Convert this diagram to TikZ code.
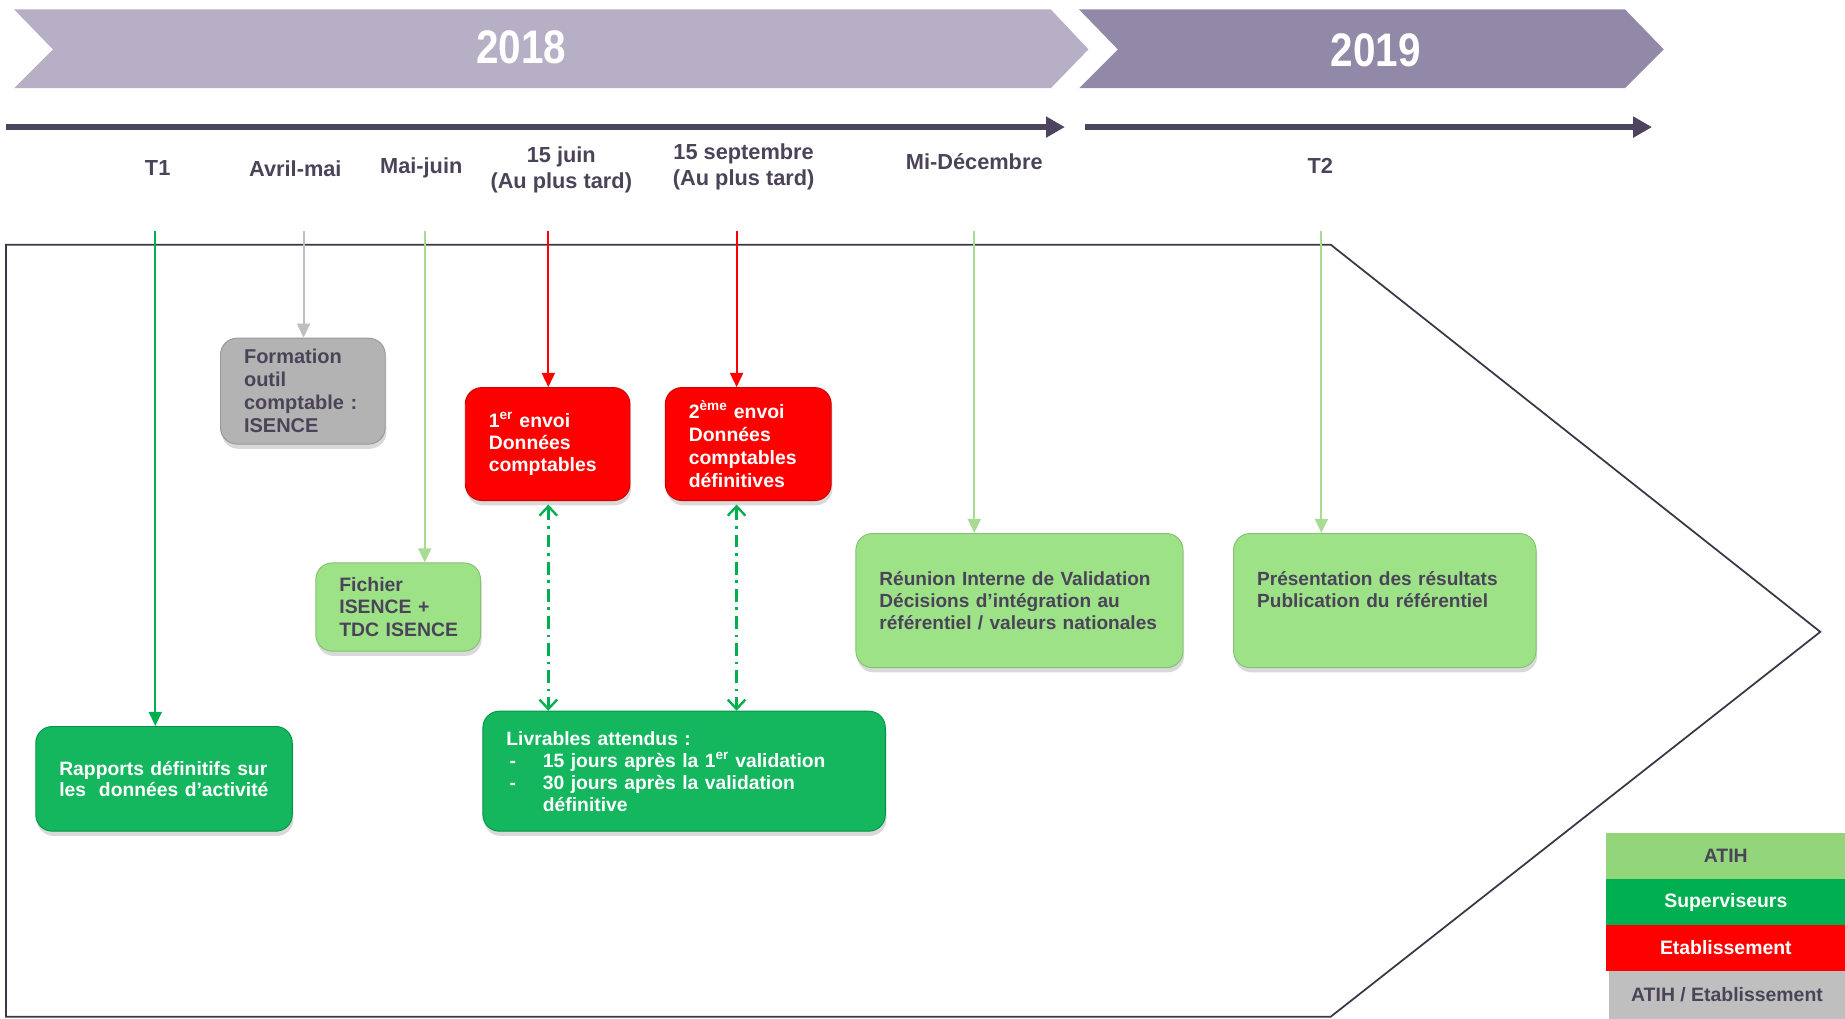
\documentclass[tikz,border=0pt]{standalone}
\usepackage{fontspec}
\setmainfont{Liberation Sans}
\newfontfamily\yearfont[FakeStretch=0.86]{Liberation Sans}
\usepackage{tikz}
\usetikzlibrary{positioning}
\usetikzlibrary{arrows.meta, shadows}
\usepackage{xcolor}

\definecolor{lilac}{HTML}{B6AFC5}
\definecolor{mauve}{HTML}{9288A7}
\definecolor{axis}{HTML}{4D4560}
\definecolor{ink}{HTML}{4B4459}
\definecolor{frame}{HTML}{3C3748}
\definecolor{atih}{HTML}{9DE287}
\definecolor{atihleg}{HTML}{92D57A}
\definecolor{atihline}{HTML}{A8DC92}
\definecolor{superv}{HTML}{00B050}
\definecolor{etab}{HTML}{FF0000}
\definecolor{mixed}{HTML}{B3B3B3}
\definecolor{mixedleg}{HTML}{BFBFBF}

\begin{document}
\begin{tikzpicture}[x=1pt, y=-1pt,
  year/.style = {font=\yearfont\bfseries\fontsize{40}{44}\selectfont, text=white},
  date/.style = {font=\bfseries\fontsize{18.5}{22}\selectfont, text=ink, align=center},
  box/.style = {draw, rounded corners=14pt, line width=0.8pt, anchor=north west, inner xsep=20pt, inner ysep=0pt, align=left,
    drop shadow={shadow xshift=1pt, shadow yshift=-4pt, opacity=0.3}, font=\bfseries\fontsize{16.5}{19}\selectfont},
  atihbox/.style = {box, fill=atih, draw=atih!85!black, text=ink},
  supbox/.style = {box, fill=superv!92!white, draw=superv!85!black, text=white},
  etabbox/.style = {box, fill=etab, draw=etab!80!black, text=white},
  mixbox/.style = {box, fill=mixed, draw=mixed!85!black, text=ink},
  tick/.style = {line width=1.7pt, -{Triangle[length=12pt, width=11pt]}},
  link/.style = {superv, line width=2pt, dash pattern=on 11pt off 5pt on 2pt off 5pt, shorten <=3pt,
    {Straight Barb[length=8pt, width=15pt]}-{Straight Barb[length=8pt, width=15pt]}},
  legend/.style = {minimum width=203pt, minimum height=39pt, anchor=north west, inner sep=0pt, font=\bfseries\fontsize{16.5}{16.5}\selectfont}
]
\useasboundingbox (0,0) rectangle (1568,866);

% years
\fill[lilac] (12,8) -- (893,8) -- (925,42) -- (893,75) -- (12,75) -- (45,42) -- cycle;
\fill[mauve] (917,8) -- (1381,8) -- (1414,42) -- (1381,75) -- (917,75) -- (950,42) -- cycle;
\node[year] (y2018) at (443,40) {2018};
\node[year] (y2019) at (1169,43) {2019};

% time axis
\coordinate (ax1) at (5,108);
\coordinate (ax2) at (905,108);
\coordinate (ax3) at (922,108);
\coordinate (ax4) at (1404,108);
\draw[axis, line width=5pt, -{Triangle[length=16pt, width=17pt]}] (ax1) -- (ax2);
\draw[axis, line width=5pt, -{Triangle[length=16pt, width=17pt]}] (ax3) -- (ax4);

\node[date] (t1) at (134,143) {T1};
\node[date] (avril) at (251,143) {Avril-mai};
\node[date] (mai) at (358,143) {Mai-juin};
\node[date] (juin) at (477,144) {15 juin\\(Au plus tard)};
\node[date] (sept) at (632,142) {15 septembre\\(Au plus tard)};
\node[date] (dec) at (828,137) {Mi-Décembre};
\node[date] (t2) at (1122,141) {T2};

\draw[frame, line width=1.5pt] (5,208) -- (1131,208) -- (1547,537) -- (1131,864) -- (5,864) -- cycle;

% boxes
\node[mixbox, text width=100pt, minimum width=140pt, minimum height=90pt, font=\bfseries\fontsize{17}{19.5}\selectfont] (formation) at (187,287) {Formation\\outil\\comptable :\\ISENCE};
\node[atihbox, text width=100pt, minimum width=140pt, minimum height=75pt] (fichier) at (268,478) {Fichier\\ISENCE +\\TDC~ISENCE};
\node[etabbox, text width=100pt, minimum width=140pt, minimum height=96pt] (envoi1) at (395,329) {1\textsuperscript{er} envoi\\Données\\comptables};
\node[etabbox, text width=101pt, minimum width=141pt, minimum height=96pt, font=\bfseries\fontsize{16.5}{19.5}\selectfont] (envoi2) at (565,329) {2\textsuperscript{ème} envoi\\Données\\comptables\\définitives};
\node[supbox, text width=178pt, minimum width=218pt, minimum height=89pt, font=\bfseries\fontsize{16.4}{18}\selectfont] (rapports) at (30,617) {Rapports définitifs sur\\les~ données d’activité};
\node[supbox, text width=302pt, minimum width=342pt, minimum height=102pt, font=\bfseries\fontsize{16.4}{18.7}\selectfont] (livrables) at (410,604)
  {Livrables attendus :\\\makebox[31pt][l]{\,-}15 jours après la 1\textsuperscript{er} validation\\\makebox[31pt][l]{\,-}30 jours après la validation\\\hspace*{31pt}définitive};
\node[atihbox, text width=238pt, minimum width=278pt, minimum height=114pt, font=\bfseries\fontsize{16.2}{18.5}\selectfont] (reunion) at (727,453)
  {Réunion Interne de Validation\\Décisions d’intégration au\\référentiel / valeurs~nationales};
\node[atihbox, text width=217pt, minimum width=257pt, minimum height=114pt, font=\bfseries\fontsize{16.2}{18.5}\selectfont] (presentation) at (1048,453)
  {Présentation des résultats\\Publication du référentiel\\\mbox{}};

% arrows from the dates
\coordinate (s1) at (132,196);
\coordinate (s2) at (258,196);
\coordinate (s3) at (361,196);
\coordinate (s4) at (466,196);
\coordinate (s5) at (626,196);
\coordinate (s6) at (828,196);
\coordinate (s7) at (1123,196);
\path (s1) edge [tick, superv] (s1 |- rapports.north);
\path (s2) edge [tick, mixedleg] (s2 |- formation.north);
\path (s3) edge [tick, atihline] (s3 |- fichier.north);
\path (s4) edge [tick, etab] (s4 |- envoi1.north);
\path (s5) edge [tick, etab] (s5 |- envoi2.north);
\path (s6) edge [tick, atihline] (s6 |- reunion.north);
\path (s7) edge [tick, atihline] (s7 |- presentation.north);

\path (s4 |- envoi1.south) edge [link] (s4 |- livrables.north);
\path (s5 |- envoi2.south) edge [link] (s5 |- livrables.north);

% legend
\node[legend, fill=atihleg, text=ink] (lg1) at (1365,708) {ATIH};
\node[legend, fill=superv, text=white] (lg2) at (1365,747) {Superviseurs};
\node[legend, fill=etab, text=white] (lg3) at (1365,786) {Etablissement};
\node[legend, fill=mixedleg, text=ink, minimum width=201pt, minimum height=41pt] (lg4) at (1367,825) {ATIH / Etablissement};
\end{tikzpicture}
\end{document}
